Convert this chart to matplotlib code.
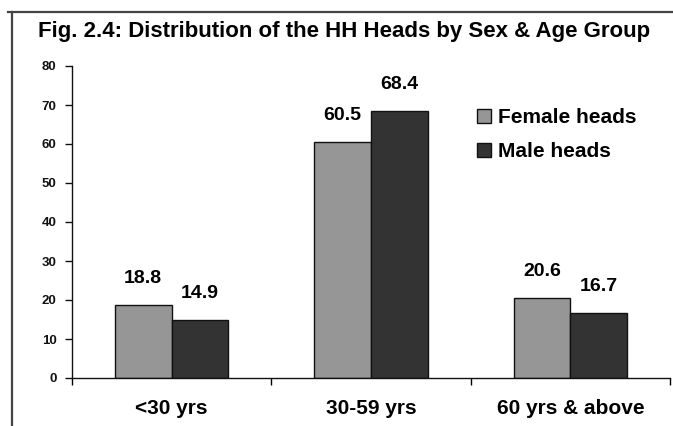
import matplotlib
matplotlib.use("Agg")
import matplotlib.pyplot as plt
from matplotlib.lines import Line2D
import numpy as np

categories = ["<30 yrs", "30-59 yrs", "60 yrs & above"]
female = [18.8, 60.5, 20.6]
male = [14.9, 68.4, 16.7]
series_names = ["Female heads", "Male heads"]
title = "Fig. 2.4: Distribution of the HH Heads by Sex & Age Group"

W, H = 673, 426
fig = plt.figure(figsize=(W / 100, H / 100), dpi=100)
ax = fig.add_axes([72 / W, 48 / H, (670 - 72) / W, 312 / H])

wide = ["Liberation Sans", "DejaVu Sans"]

x = np.arange(len(categories))
bw = 0.285
b1 = ax.bar(x - bw / 2, female, bw, color="#969696", edgecolor="#111111", linewidth=1.0, label=series_names[0])
b2 = ax.bar(x + bw / 2, male, bw, color="#333333", edgecolor="#111111", linewidth=1.0, label=series_names[1])

for bars, vals in ((b1, female), (b2, male)):
    for rect, v in zip(bars, vals):
        ax.annotate(f"{v:.1f}", (rect.get_x() + rect.get_width() / 2, v),
                    xytext=(0, 19), textcoords="offset points",
                    ha="center", va="center", fontsize=14, fontweight="bold", family=wide)

ax.set_xlim(-0.5, 2.5)
ax.set_ylim(0, 80)
ax.set_yticks(np.arange(0, 81, 10))
ax.set_yticklabels([str(v) for v in range(0, 81, 10)], fontsize=9.5, fontweight="bold", family=wide)
ax.tick_params(axis="y", direction="out", length=5, width=1, pad=6, colors="#111111")

ax.set_xticks([-0.5, 0.5, 1.5, 2.5])
ax.set_xticklabels([])
ax.tick_params(axis="x", which="major", direction="out", length=5, width=1)
ax.set_xticks(x, minor=True)
ax.set_xticklabels(categories, minor=True, fontsize=15, fontweight="bold", family=wide)
ax.tick_params(axis="x", which="minor", length=0, pad=15)

for s in ("top", "right"):
    ax.spines[s].set_visible(False)
for s in ("left", "bottom"):
    ax.spines[s].set_linewidth(1.0)
    ax.spines[s].set_color("#111111")

leg = ax.legend(loc="upper left", bbox_to_anchor=((469 - 72) / (670 - 72), (378 - 100) / 312),
                frameon=False, prop={"family": wide, "weight": "bold", "size": 15},
                handlelength=0.65, handleheight=0.65, handletextpad=0.35, labelspacing=0.72, borderaxespad=0)

fig.text(38 / W, 1 - 31 / H, title, ha="left", va="center", fontsize=16, fontweight="bold", family=wide)

fig.add_artist(Line2D([8 / W, 1], [1 - 12 / H, 1 - 12 / H], transform=fig.transFigure, color="#444444", lw=1.6))
fig.add_artist(Line2D([12 / W, 12 / W], [0, 1 - 12 / H], transform=fig.transFigure, color="#444444", lw=1.6))

fig.savefig("out.png", dpi=100)
